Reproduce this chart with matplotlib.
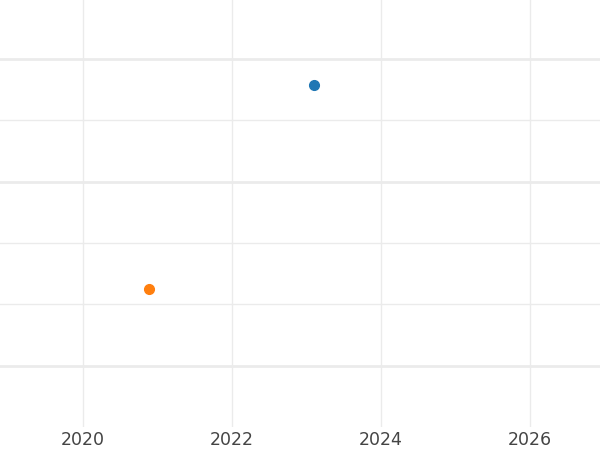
import matplotlib
matplotlib.use('Agg')
import matplotlib.pyplot as plt

# Data points (x = year, y = value)
years = [2023.10, 2020.89]
values = [5.57, 2.25]
colors = ['#1f77b4', '#ff7f0e']

x_ticks = [2020, 2022, 2024, 2026]
y_major = [1, 4, 6]
y_minor = [2, 3, 5]

fig = plt.figure(figsize=(6, 4.5), dpi=100)
ax = fig.add_axes([0, 1 - 427 / 450, 1, 427 / 450])

for x, y, c in zip(years, values, colors):
    ax.plot([x], [y], 'o', color=c, markersize=7, zorder=3)

ax.set_xlim(2018.886, 2026.94)
ax.set_ylim(0, 6.96)
ax.set_xticks(x_ticks)
ax.set_yticks(y_major)
ax.set_yticks(y_minor, minor=True)
ax.set_yticklabels([])
ax.set_yticklabels([], minor=True)
ax.tick_params(axis='both', which='both', length=0)
ax.tick_params(axis='x', labelsize=12.5, labelcolor='#444444', pad=3)

ax.grid(True, axis='x', color='#ebebeb', linewidth=1)
ax.grid(True, axis='y', which='major', color='#ebebeb', linewidth=2)
ax.grid(True, axis='y', which='minor', color='#ebebeb', linewidth=1)
ax.set_axisbelow(True)
for s in ax.spines.values():
    s.set_visible(False)

fig.savefig('out.png', dpi=100)
